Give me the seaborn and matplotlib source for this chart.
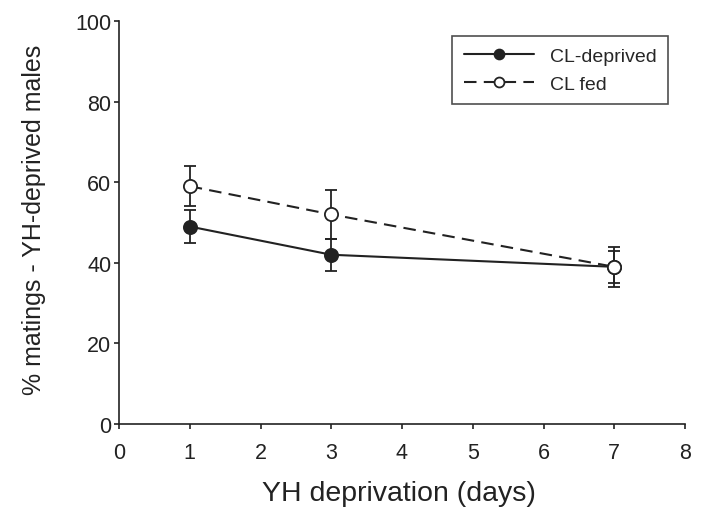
import matplotlib
matplotlib.use("Agg")
import matplotlib.pyplot as plt
import seaborn as sns
import pandas as pd

days = [1, 3, 7]
deprived_mean = [49, 42, 39]
deprived_err = [4, 4, 4]
fed_mean = [59, 52, 39]
fed_err = [5, 6, 5]
series_names = ["CL-deprived", "CL fed"]

sns.set_style("ticks")
plt.rcParams['font.family'] = ['Liberation Sans', 'DejaVu Sans']

df = pd.DataFrame({
    "day": days * 2,
    "pct": deprived_mean + fed_mean,
    "err": deprived_err + fed_err,
    "group": [series_names[0]] * 3 + [series_names[1]] * 3,
})

ink = '#222222'
fig = plt.figure(figsize=(7.02, 5.10), dpi=100)
ax = fig.add_axes([119/702, 1 - 425/510, (685-119)/702, (425-22)/510])

for name, ls, mfc in [(series_names[0], '-', ink), (series_names[1], (0, (6, 3.5)), 'white')]:
    sub = df[df.group == name]
    ax.errorbar(sub.day, sub.pct, yerr=sub.err, fmt='none', ecolor=ink,
                elinewidth=1.3, capsize=4.3, capthick=1.3, zorder=2)
    sns.lineplot(data=sub, x="day", y="pct", ax=ax, color=ink, linestyle=ls,
                 linewidth=1.5, marker='o', markersize=9.5, markerfacecolor=mfc,
                 markeredgecolor=ink, markeredgewidth=1.3, label=name, zorder=3)

ax.set_xlim(0, 8)
ax.set_ylim(0, 100)
ax.set_xticks(range(0, 9))
ax.set_yticks(range(0, 101, 20))
ax.tick_params(axis='both', labelsize=15.5, direction='out', length=3.6, width=1.2,
               colors=ink)
ax.tick_params(axis='y', pad=2)
ax.tick_params(axis='x', pad=9.5)
for s in ['top', 'right']:
    ax.spines[s].set_visible(False)
for s in ['left', 'bottom']:
    ax.spines[s].set_linewidth(1.2)
    ax.spines[s].set_color(ink)
ax.set_xlabel("YH deprivation (days)", fontsize=20.5, color=ink)
ax.set_ylabel("% matings - YH-deprived males", fontsize=18, color=ink)
ax.xaxis.set_label_coords(0.495, -0.140)
ax.yaxis.set_label_coords(-0.129, 0.509)

leg = ax.legend(loc='upper right', bbox_to_anchor=(668/702, 1 - 37/510), bbox_transform=fig.transFigure,
                borderaxespad=0, fontsize=14, frameon=True, fancybox=False, edgecolor=ink,
                handlelength=3.6, handletextpad=0.8, borderpad=0.6, labelspacing=0.5,
                markerscale=0.75)
leg.get_frame().set_linewidth(1.2)

fig.savefig("out.png", dpi=100)
